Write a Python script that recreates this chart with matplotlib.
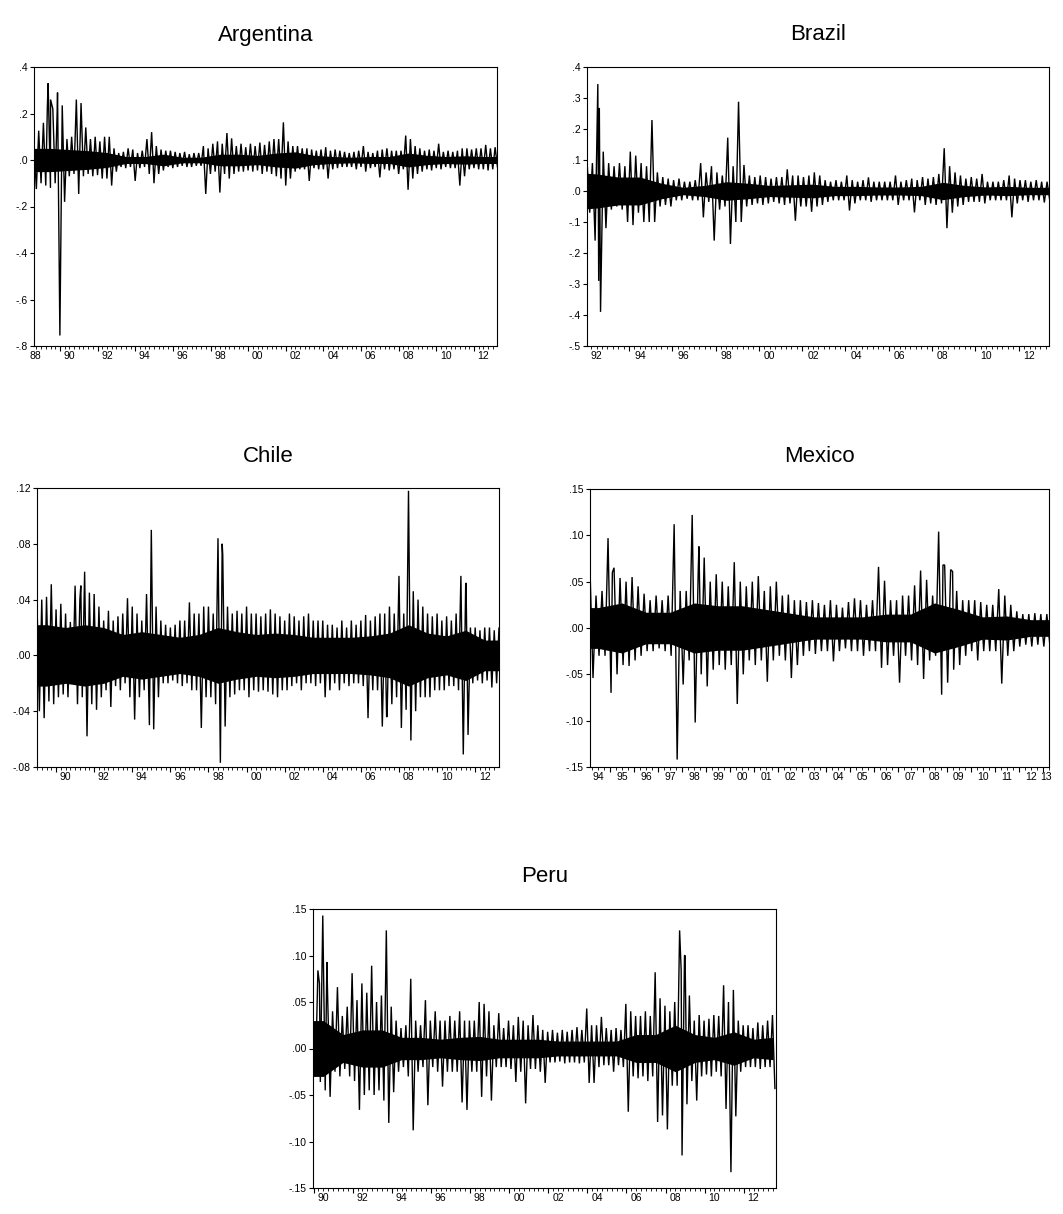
import numpy as np
import matplotlib.pyplot as plt

plt.rcParams['font.family'] = ['Liberation Sans', 'DejaVu Sans']

W, H = 1063, 1214

# ---- data ----
# quarterly high / low of the daily returns, extra isolated spikes,
# and the yearly half-width of the dense (solid black) core of each series

arg_start = 1988.62
arg_hi = [0.06,
          0.126, 0.16, 0.33, 0.22,
          0.29, 0.235, 0.09, 0.10,
          0.26, 0.245, 0.14, 0.09,
          0.10, 0.08, 0.10, 0.10,
          0.05, 0.03, 0.035, 0.05,
          0.045, 0.03, 0.04, 0.09,
          0.12, 0.06, 0.045, 0.04,
          0.04, 0.035, 0.03, 0.035,
          0.025, 0.03, 0.03, 0.06,
          0.05, 0.07, 0.08, 0.07,
          0.116, 0.093, 0.06, 0.07,
          0.055, 0.07, 0.06, 0.075,
          0.065, 0.08, 0.09, 0.09,
          0.162, 0.08, 0.06, 0.06,
          0.05, 0.05, 0.045, 0.04,
          0.045, 0.055, 0.04, 0.045,
          0.04, 0.035, 0.03, 0.035,
          0.04, 0.06, 0.035, 0.03,
          0.04, 0.045, 0.05, 0.04,
          0.04, 0.04, 0.105, 0.09,
          0.06, 0.05, 0.04, 0.045,
          0.04, 0.07, 0.035, 0.04,
          0.035, 0.04, 0.05, 0.05,
          0.045, 0.05, 0.05, 0.065,
          0.05, 0.055]
arg_lo = [-0.125,
          -0.10, -0.11, -0.12, -0.10,
          -0.755, -0.18, -0.07, -0.06,
          -0.146, -0.07, -0.06, -0.07,
          -0.065, -0.08, -0.08, -0.11,
          -0.05, -0.03, -0.035, -0.03,
          -0.09, -0.035, -0.03, -0.06,
          -0.10, -0.06, -0.045, -0.03,
          -0.035, -0.03, -0.025, -0.03,
          -0.03, -0.025, -0.025, -0.146,
          -0.06, -0.05, -0.14, -0.06,
          -0.08, -0.06, -0.05, -0.05,
          -0.045, -0.05, -0.045, -0.06,
          -0.05, -0.06, -0.07, -0.08,
          -0.11, -0.08, -0.05, -0.04,
          -0.04, -0.09, -0.035, -0.04,
          -0.04, -0.08, -0.04, -0.035,
          -0.03, -0.03, -0.03, -0.04,
          -0.03, -0.05, -0.035, -0.03,
          -0.075, -0.04, -0.045, -0.04,
          -0.06, -0.04, -0.128, -0.08,
          -0.06, -0.05, -0.04, -0.045,
          -0.035, -0.04, -0.03, -0.035,
          -0.035, -0.11, -0.07, -0.04,
          -0.035, -0.04, -0.04, -0.045,
          -0.04, -0.03]
arg_spike_t = [1989.33, 1989.50, 1989.85]
arg_spike_v = [0.23, 0.26, 0.205]
arg_core_year = list(range(1988, 2014))
arg_core = [0.05, 0.05, 0.045, 0.04, 0.032, 0.015, 0.015, 0.025, 0.012, 0.012,
            0.025, 0.025, 0.02, 0.03, 0.035, 0.02, 0.015, 0.012, 0.015, 0.015,
            0.03, 0.02, 0.015, 0.018, 0.015, 0.015]

bra_start = 1992.06
bra_hi = [0.10, 0.09, 0.345, 0.127,
          0.09, 0.08, 0.09, 0.08,
          0.127, 0.114, 0.09, 0.08,
          0.229, 0.06, 0.045, 0.04,
          0.035, 0.04, 0.03, 0.03,
          0.035, 0.09, 0.06, 0.08,
          0.06, 0.05, 0.172, 0.08,
          0.288, 0.084, 0.05, 0.045,
          0.05, 0.045, 0.04, 0.045,
          0.045, 0.07, 0.05, 0.05,
          0.045, 0.05, 0.06, 0.05,
          0.035, 0.03, 0.035, 0.03,
          0.05, 0.035, 0.03, 0.035,
          0.044, 0.03, 0.03, 0.03,
          0.03, 0.05, 0.03, 0.035,
          0.04, 0.035, 0.045, 0.04,
          0.045, 0.055, 0.138, 0.08,
          0.06, 0.05, 0.04, 0.045,
          0.04, 0.055, 0.03, 0.03,
          0.03, 0.035, 0.05, 0.04,
          0.035, 0.035, 0.03, 0.035,
          0.03, 0.03]
bra_lo = [-0.07, -0.16, -0.39, -0.12,
          -0.06, -0.05, -0.06, -0.10,
          -0.11, -0.07, -0.10, -0.10,
          -0.10, -0.05, -0.045, -0.05,
          -0.03, -0.03, -0.025, -0.03,
          -0.03, -0.085, -0.035, -0.16,
          -0.06, -0.05, -0.171, -0.10,
          -0.10, -0.05, -0.045, -0.04,
          -0.045, -0.04, -0.035, -0.04,
          -0.045, -0.04, -0.096, -0.05,
          -0.05, -0.067, -0.05, -0.045,
          -0.035, -0.03, -0.03, -0.03,
          -0.063, -0.04, -0.03, -0.03,
          -0.035, -0.03, -0.03, -0.03,
          -0.03, -0.045, -0.03, -0.03,
          -0.069, -0.03, -0.045, -0.04,
          -0.045, -0.04, -0.12, -0.07,
          -0.05, -0.045, -0.035, -0.035,
          -0.035, -0.04, -0.03, -0.03,
          -0.03, -0.03, -0.085, -0.04,
          -0.03, -0.035, -0.03, -0.03,
          -0.037, -0.03]
bra_spike_t = [1992.60, 1992.63]
bra_spike_v = [-0.29, 0.268]
bra_core_year = list(range(1991, 2014))
bra_core = [0.06, 0.055, 0.045, 0.045, 0.025, 0.012, 0.018, 0.03, 0.025, 0.018,
            0.02, 0.022, 0.015, 0.015, 0.013, 0.013, 0.015, 0.028, 0.018, 0.013,
            0.015, 0.012, 0.012]

chl_start = 1989.0
chl_hi = [0.038, 0.04, 0.042, 0.051,
          0.033, 0.037, 0.03, 0.024,
          0.05, 0.04, 0.06, 0.045,
          0.044, 0.035, 0.025, 0.032,
          0.025, 0.028, 0.03, 0.041,
          0.035, 0.03, 0.025, 0.044,
          0.09, 0.035, 0.025, 0.022,
          0.02, 0.022, 0.025, 0.025,
          0.038, 0.03, 0.03, 0.035,
          0.035, 0.03, 0.084, 0.072,
          0.035, 0.03, 0.032, 0.03,
          0.035, 0.03, 0.03, 0.028,
          0.03, 0.033, 0.03, 0.028,
          0.025, 0.03, 0.028, 0.025,
          0.028, 0.03, 0.025, 0.025,
          0.025, 0.022, 0.022, 0.02,
          0.025, 0.02, 0.025, 0.022,
          0.025, 0.029, 0.025, 0.028,
          0.03, 0.03, 0.035, 0.03,
          0.057, 0.03, 0.118, 0.046,
          0.04, 0.035, 0.03, 0.028,
          0.03, 0.025, 0.028, 0.025,
          0.03, 0.057, 0.05, 0.02,
          0.02, 0.018, 0.02, 0.02,
          0.018, 0.02]
chl_lo = [-0.04, -0.045, -0.033, -0.035,
          -0.03, -0.028, -0.03, -0.02,
          -0.035, -0.03, -0.058, -0.035,
          -0.039, -0.03, -0.025, -0.037,
          -0.022, -0.025, -0.02, -0.03,
          -0.046, -0.03, -0.025, -0.035,
          -0.053, -0.03, -0.02, -0.02,
          -0.018, -0.02, -0.022, -0.02,
          -0.025, -0.025, -0.052, -0.03,
          -0.03, -0.035, -0.077, -0.051,
          -0.03, -0.028, -0.025, -0.025,
          -0.03, -0.025, -0.026, -0.025,
          -0.026, -0.028, -0.03, -0.025,
          -0.025, -0.022, -0.02, -0.025,
          -0.02, -0.02, -0.022, -0.02,
          -0.03, -0.025, -0.02, -0.025,
          -0.02, -0.022, -0.02, -0.02,
          -0.022, -0.045, -0.025, -0.025,
          -0.051, -0.044, -0.035, -0.03,
          -0.052, -0.039, -0.061, -0.04,
          -0.03, -0.03, -0.03, -0.025,
          -0.025, -0.025, -0.022, -0.022,
          -0.025, -0.071, -0.057, -0.02,
          -0.018, -0.02, -0.018, -0.023,
          -0.02, -0.015]
chl_spike_t = [1991.3, 1994.9, 1998.72, 2007.35, 2011.52]
chl_spike_v = [0.05, -0.05, 0.08, -0.044, 0.052]
chl_core_year = list(range(1988, 2014))
chl_core = [0.022, 0.022, 0.02, 0.022, 0.02, 0.015, 0.017, 0.015, 0.013, 0.015,
            0.02, 0.017, 0.015, 0.016, 0.015, 0.013, 0.013, 0.013, 0.014, 0.016,
            0.022, 0.016, 0.014, 0.018, 0.011, 0.011]

mex_start = 1994.17
mex_hi = [0.063, 0.035, 0.04, 0.097, 0.065, 0.054, 0.05, 0.055,
          0.045, 0.037, 0.03, 0.035, 0.03, 0.035, 0.112, 0.04,
          0.04, 0.122, 0.06, 0.076, 0.05, 0.058, 0.05, 0.045,
          0.071, 0.05, 0.045, 0.05, 0.056, 0.04, 0.045, 0.05,
          0.035, 0.036, 0.03, 0.03, 0.028, 0.03, 0.027, 0.025,
          0.03, 0.025, 0.022, 0.028, 0.032, 0.03, 0.025, 0.03,
          0.066, 0.051, 0.03, 0.03, 0.035, 0.035, 0.046, 0.062,
          0.052, 0.035, 0.104, 0.068, 0.063, 0.04, 0.03, 0.03,
          0.03, 0.028, 0.025, 0.025, 0.042, 0.035, 0.025, 0.018,
          0.015, 0.015, 0.016, 0.015, 0.015]
mex_lo = [-0.054, -0.03, -0.03, -0.07, -0.05, -0.04, -0.041, -0.035,
          -0.03, -0.025, -0.025, -0.022, -0.025, -0.03, -0.142, -0.061,
          -0.035, -0.102, -0.05, -0.063, -0.045, -0.04, -0.045, -0.04,
          -0.082, -0.05, -0.035, -0.04, -0.035, -0.058, -0.035, -0.03,
          -0.035, -0.054, -0.04, -0.03, -0.025, -0.028, -0.025, -0.025,
          -0.036, -0.025, -0.022, -0.025, -0.025, -0.03, -0.025, -0.025,
          -0.043, -0.04, -0.03, -0.059, -0.03, -0.035, -0.04, -0.055,
          -0.035, -0.03, -0.072, -0.059, -0.045, -0.04, -0.03, -0.025,
          -0.035, -0.025, -0.025, -0.025, -0.06, -0.03, -0.025, -0.02,
          -0.018, -0.02, -0.018, -0.02, -0.018]
mex_spike_t = [1995.10, 1998.70, 2008.85, 2009.25]
mex_spike_v = [0.06, 0.088, 0.068, 0.061]
mex_core_year = list(range(1993, 2014))
mex_core = [0.022, 0.022, 0.027, 0.017, 0.017, 0.027, 0.024, 0.024, 0.02, 0.016,
            0.012, 0.012, 0.012, 0.015, 0.015, 0.027, 0.02, 0.012, 0.013, 0.009,
            0.009]

per_start = 1989.97
per_hi = [0.03, 0.084, 0.143, 0.055, 0.04, 0.066, 0.035, 0.045,
          0.081, 0.052, 0.07, 0.06, 0.089, 0.05, 0.057, 0.127,
          0.045, 0.03, 0.022, 0.025, 0.075, 0.03, 0.025, 0.052,
          0.03, 0.04, 0.03, 0.03, 0.035, 0.03, 0.04, 0.03,
          0.03, 0.03, 0.05, 0.048, 0.04, 0.025, 0.038, 0.022,
          0.03, 0.025, 0.034, 0.03, 0.025, 0.036, 0.025, 0.02,
          0.018, 0.02, 0.017, 0.02, 0.018, 0.02, 0.023, 0.02,
          0.043, 0.025, 0.025, 0.034, 0.022, 0.02, 0.022, 0.02,
          0.048, 0.04, 0.035, 0.035, 0.04, 0.035, 0.082, 0.054,
          0.046, 0.04, 0.05, 0.127, 0.10, 0.057, 0.03, 0.036,
          0.03, 0.032, 0.036, 0.035, 0.068, 0.05, 0.063, 0.03,
          0.025, 0.025, 0.022, 0.028, 0.025, 0.03, 0.036]
per_lo = [-0.03, -0.036, -0.045, -0.052, -0.025, -0.03, -0.022, -0.03,
          -0.035, -0.066, -0.05, -0.045, -0.05, -0.045, -0.056, -0.08,
          -0.047, -0.025, -0.02, -0.03, -0.088, -0.025, -0.02, -0.061,
          -0.02, -0.025, -0.041, -0.025, -0.025, -0.025, -0.058, -0.066,
          -0.025, -0.025, -0.052, -0.03, -0.056, -0.02, -0.02, -0.02,
          -0.022, -0.036, -0.025, -0.059, -0.022, -0.022, -0.025, -0.037,
          -0.015, -0.015, -0.014, -0.016, -0.015, -0.015, -0.016, -0.015,
          -0.037, -0.037, -0.02, -0.018, -0.018, -0.025, -0.018, -0.02,
          -0.068, -0.03, -0.032, -0.03, -0.035, -0.03, -0.079, -0.072,
          -0.087, -0.04, -0.04, -0.115, -0.06, -0.035, -0.056, -0.03,
          -0.028, -0.03, -0.025, -0.03, -0.065, -0.133, -0.073, -0.025,
          -0.02, -0.02, -0.02, -0.022, -0.02, -0.02, -0.043]
per_spike_t = [1990.30, 1990.68, 2008.80, 2009.00]
per_spike_v = [0.07, 0.093, 0.084, 0.10]
per_core_year = list(range(1989, 2014))
per_core = [0.03, 0.03, 0.015, 0.02, 0.02, 0.012, 0.012, 0.01, 0.012, 0.013,
            0.01, 0.01, 0.01, 0.008, 0.008, 0.008, 0.008, 0.015, 0.015, 0.025,
            0.015, 0.012, 0.018, 0.01, 0.012]


def build_series(start, hi, lo, spike_t, spike_v):
    t, v = [], []
    for i in range(len(hi)):
        t0 = start + 0.25 * i
        t += [t0, t0 + 0.125]
        v += [hi[i], lo[i]]
    t = np.array(t + list(spike_t))
    v = np.array(v + list(spike_v))
    order = np.argsort(t, kind='stable')
    return t[order], v[order]


fig = plt.figure(figsize=(W / 100, H / 100), dpi=100)


def panel(box, title, series, core, xlim, yticks, ylabels, major, labels, label_pos):
    left, top, right, bottom = box
    ax = fig.add_axes([left / W, 1 - bottom / H, (right - left) / W, (bottom - top) / H])
    t, v = series
    cy = np.array(core[0]) + 0.5
    cw = np.array(core[1])
    ax.fill_between(cy, -cw, cw, color='black', lw=0)
    ax.plot(t, v, color='black', lw=1.0, solid_joinstyle='miter')
    ax.set_yticks(yticks)
    ax.set_yticklabels(ylabels)
    ax.set_xticks(major)
    ax.set_xticklabels([])
    ax.set_xticks(np.arange(np.ceil(xlim[0] * 4) / 4, xlim[1], 0.25), minor=True)
    ax.set_xlim(xlim)
    ax.set_ylim(yticks[-1], yticks[0])
    ax.tick_params(axis='y', direction='out', length=3, width=0.8, labelsize=7.5, pad=1.5)
    ax.tick_params(axis='x', which='major', direction='out', length=3.5, width=0.8)
    ax.tick_params(axis='x', which='minor', direction='out', length=2, width=0.6)
    for s in ax.spines.values():
        s.set_linewidth(0.8)
    for lab, pos in zip(labels, label_pos):
        ax.annotate(lab, xy=(pos, 0), xycoords=('data', 'axes fraction'),
                    xytext=(0, -5), textcoords='offset pixels',
                    ha='center', va='top', fontsize=7.5)
    fig.text((left + right) / 2 / W, 1 - (top - 32) / H, title,
             ha='center', va='center', fontsize=16)
    return ax


two_yr = ['88', '90', '92', '94', '96', '98', '00', '02', '04', '06', '08', '10', '12']

panel((34, 67, 497, 346), 'Argentina',
      build_series(arg_start, arg_hi, arg_lo, arg_spike_t, arg_spike_v),
      (arg_core_year, arg_core),
      (1988.62, 2013.22),
      [0.4, 0.2, 0.0, -0.2, -0.4, -0.6, -0.8],
      ['.4', '.2', '.0', '-.2', '-.4', '-.6', '-.8'],
      np.arange(1990, 2013, 2),
      two_yr,
      [1988.67] + [y + 0.5 for y in range(1990, 2013, 2)])

panel((587, 67, 1049, 346), 'Brazil',
      build_series(bra_start, bra_hi, bra_lo, bra_spike_t, bra_spike_v),
      (bra_core_year, bra_core),
      (1992.06, 2013.4),
      [0.4, 0.3, 0.2, 0.1, 0.0, -0.1, -0.2, -0.3, -0.4, -0.5],
      ['.4', '.3', '.2', '.1', '.0', '-.1', '-.2', '-.3', '-.4', '-.5'],
      np.arange(1994, 2013, 2),
      two_yr[2:],
      [y + 0.5 for y in range(1992, 2013, 2)])

panel((37, 488, 499, 767), 'Chile',
      build_series(chl_start, chl_hi, chl_lo, chl_spike_t, chl_spike_v),
      (chl_core_year, chl_core),
      (1989.0, 2013.25),
      [0.12, 0.08, 0.04, 0.0, -0.04, -0.08],
      ['.12', '.08', '.04', '.00', '-.04', '-.08'],
      np.arange(1990, 2013, 2),
      two_yr[1:],
      [y + 0.5 for y in range(1990, 2013, 2)])

mex_labels = ['94', '95', '96', '97', '98', '99', '00', '01', '02', '03',
              '04', '05', '06', '07', '08', '09', '10', '11', '12', '13']
panel((590, 489, 1049, 767), 'Mexico',
      build_series(mex_start, mex_hi, mex_lo, mex_spike_t, mex_spike_v),
      (mex_core_year, mex_core),
      (1994.17, 2013.26),
      [0.15, 0.10, 0.05, 0.0, -0.05, -0.10, -0.15],
      ['.15', '.10', '.05', '.00', '-.05', '-.10', '-.15'],
      np.arange(1995, 2014, 1),
      mex_labels,
      [y + 0.5 for y in range(1994, 2013)] + [2013.15])

panel((313, 909, 776, 1188), 'Peru',
      build_series(per_start, per_hi, per_lo, per_spike_t, per_spike_v),
      (per_core_year, per_core),
      (1989.97, 2013.65),
      [0.15, 0.10, 0.05, 0.0, -0.05, -0.10, -0.15],
      ['.15', '.10', '.05', '.00', '-.05', '-.10', '-.15'],
      np.arange(1990, 2014, 2),
      two_yr[1:],
      [y + 0.5 for y in range(1990, 2013, 2)])

fig.savefig('out.png', dpi=100)
